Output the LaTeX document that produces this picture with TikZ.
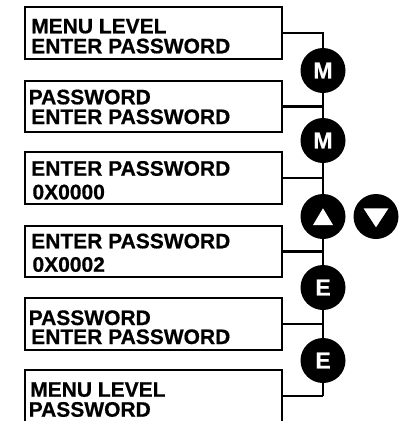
\documentclass[tikz,border=0pt]{standalone}
\usepackage{fontspec}
\setmainfont{Liberation Sans}
\newfontfamily\heavyfont[FakeBold=0.6]{Liberation Sans Bold}
\newfontfamily\keyfont[FakeBold=0.8]{Liberation Sans Bold}
\usetikzlibrary{backgrounds}
\begin{document}
\begin{tikzpicture}[x=1pt,y=-1pt,
  box/.style={draw,line width=2pt,inner sep=0pt,outer sep=0pt,anchor=north west,minimum width=257pt},
  lbl/.style={anchor=base west,inner sep=0pt,font=\heavyfont\fontsize{21}{20}\selectfont},
  key/.style={circle,fill=black,minimum size=45pt,inner sep=0pt,text=white,font=\keyfont\fontsize{23}{23}\selectfont},
  wire/.style={line width=2.6pt}]
\useasboundingbox (0,0) rectangle (399,421);
% boxes
\node[box,minimum height=52pt] (b1) at (25,7) {};
\node[box,minimum height=51pt] (b2) at (25,81) {};
\node[box,minimum height=52.3pt] (b3) at (25,151.7) {};
\node[box,minimum height=51pt] (b4) at (25,226) {};
\node[box,minimum height=52pt] (b5) at (25,298) {};
\node[box,minimum height=58pt] (b6) at (25,370) {};
% texts
\node[lbl] (t1a) at (31,33.3) {MENU LEVEL};
\node[lbl] (t1b) at (31,53.3) {ENTER PASSWORD};
\node[lbl] (t2a) at (28.5,104.3) {PASSWORD};
\node[lbl] (t2b) at (31,124) {ENTER PASSWORD};
\node[lbl] (t3a) at (31,175.7) {ENTER PASSWORD};
\node[lbl] (t3b) at (32.3,199.3) {0X0000};
\node[lbl] (t4a) at (31,248.3) {ENTER PASSWORD};
\node[lbl] (t4b) at (32.3,271.7) {0X0002};
\node[lbl] (t5a) at (28.5,325) {PASSWORD};
\node[lbl] (t5b) at (31,344) {ENTER PASSWORD};
\node[lbl] (t6a) at (30,396.7) {MENU LEVEL};
\node[lbl] (t6b) at (28.5,416.7) {PASSWORD};
% keys
\node[key] (m1) at (323,70.5) {M};
\node[key] (m2) at (323,140.5) {M};
\node[key] (up) at (323,216.5) {};
\node[key] (dn) at (376,216.5) {};
\node[key] (e1) at (323,287.5) {E};
\node[key] (e2) at (323,360.5) {E};
\fill[white] ([shift={(0,-8.2)}]up.center) -- ([shift={(10,8.5)}]up.center) -- ([shift={(-10,8.5)}]up.center) -- cycle;
\fill[white] ([shift={(-12.5,-8.2)}]dn.center) -- ([shift={(12.5,-8.2)}]dn.center) -- ([shift={(0,10.8)}]dn.center) -- cycle;
\coordinate (j6) at (323,396);
\begin{pgfonlayer}{background}
\draw[wire] (b1.east) -| (m1.center);
\draw[wire] (m1.center) -- (m2.center) -- (up.center) -- (e1.center) -- (e2.center) -- (j6);
\draw[wire] (b2.east) -- (b2.east -| m1.center);
\draw[wire] (b3.east) -- (b3.east -| m1.center);
\draw[wire] (b4.east) -- (b4.east -| m1.center);
\draw[wire] (b5.east) -- (b5.east -| m1.center);
\draw[wire] (b6.east |- j6) -- (j6);
\end{pgfonlayer}
\end{tikzpicture}
\end{document}
